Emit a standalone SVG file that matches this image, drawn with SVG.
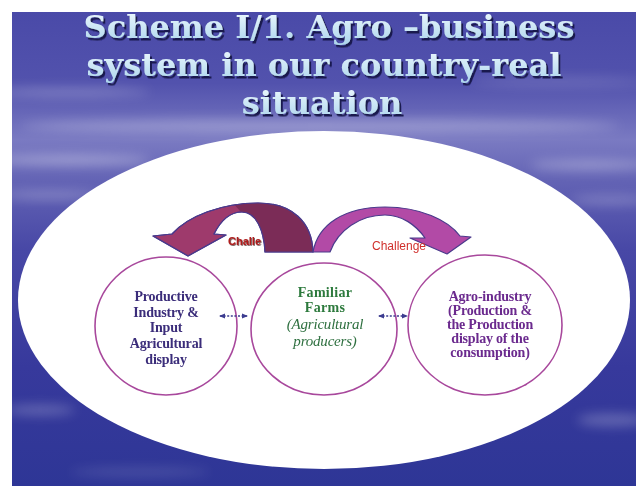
<svg xmlns="http://www.w3.org/2000/svg" width="636" height="486" viewBox="0 0 636 486">
  <defs>
    <linearGradient id="sky" x1="0" y1="0" x2="0" y2="1">
      <stop offset="0" stop-color="#4a4aa8"/>
      <stop offset="0.15" stop-color="#5252ad"/>
      <stop offset="0.27" stop-color="#7a7ac2"/>
      <stop offset="0.36" stop-color="#6262b4"/>
      <stop offset="0.5" stop-color="#4848a6"/>
      <stop offset="0.75" stop-color="#37399c"/>
      <stop offset="1" stop-color="#2e3696"/>
    </linearGradient>
    <linearGradient id="titleFill" x1="0" y1="0" x2="0" y2="1">
      <stop offset="0" stop-color="#f2fbff"/>
      <stop offset="1" stop-color="#a9d3ec"/>
    </linearGradient>
    <filter id="haze" x="-30%" y="-200%" width="160%" height="500%">
      <feGaussianBlur stdDeviation="6"/>
    </filter>
    <filter id="titleShadow" x="-5%" y="-20%" width="110%" height="150%">
      <feDropShadow dx="2" dy="2.5" stdDeviation="0.7" flood-color="#14144a" flood-opacity="0.95"/>
    </filter>
    <filter id="labelShadow" x="-10%" y="-30%" width="120%" height="160%">
      <feDropShadow dx="0.8" dy="0.8" stdDeviation="0.3" flood-color="#3a1010" flood-opacity="0.8"/>
    </filter>
    <marker id="tip" viewBox="0 0 6 6" refX="5" refY="3" markerWidth="5" markerHeight="5" orient="auto-start-reverse">
      <path d="M0,0.5 L6,3 L0,5.5 Z" fill="#3c3c90"/>
    </marker>
    <clipPath id="rightLeg">
      <polygon points="226,195 330,195 330,262 250,262 250,220 240,211"/>
    </clipPath>
  </defs>
  <style>
    .title { font-family: "DejaVu Serif", "Liberation Serif", serif; font-weight: bold; font-size: 32px; fill: url(#titleFill); text-anchor: middle; filter: url(#titleShadow); }
    .ring { fill: none; stroke: #a8489c; stroke-width: 1.6; }
    .lbl { font-family: "Liberation Serif", "Times New Roman", serif; font-size: 14px; font-weight: bold; text-anchor: middle; letter-spacing: -0.2px; }
    .lbl-input { fill: #3b2d7a; }
    .lbl-farm { fill: #2d7a3d; letter-spacing: 0.3px; }
    .lbl-farm-it { fill: #2f7040; font-size: 15px; font-weight: normal; font-style: italic; }
    .lbl-agro { fill: #6b2a8e; }
    .bend { stroke: #4a3a8c; stroke-width: 1.2; stroke-linejoin: round; }
    .link { stroke: #3c3c90; stroke-width: 1.3; stroke-dasharray: 2 1.6; fill: none; }
    .challenge { font-family: "Liberation Sans", Arial, sans-serif; font-size: 12px; fill: #d0302c; }
    .challenge-bold { font-family: "Liberation Sans", Arial, sans-serif; font-size: 11px; font-weight: bold; fill: #b01c1c; filter: url(#labelShadow); }
  </style>

  <!-- page margin and slide background -->
  <rect width="636" height="486" fill="#ffffff"/>
  <rect x="12" y="12" width="624" height="474" fill="url(#sky)"/>

  <!-- soft cloud streaks -->
  <g filter="url(#haze)" fill="#ffffff">
    <ellipse cx="70" cy="92" rx="80" ry="4" opacity="0.25"/>
    <ellipse cx="560" cy="82" rx="90" ry="4" opacity="0.18"/>
    <ellipse cx="320" cy="126" rx="300" ry="7" opacity="0.28"/>
    <ellipse cx="70" cy="160" rx="80" ry="5" opacity="0.35"/>
    <ellipse cx="50" cy="195" rx="50" ry="4" opacity="0.28"/>
    <ellipse cx="590" cy="165" rx="60" ry="5" opacity="0.3"/>
    <ellipse cx="610" cy="200" rx="40" ry="4" opacity="0.25"/>
    <ellipse cx="40" cy="410" rx="35" ry="5" opacity="0.25"/>
    <ellipse cx="612" cy="420" rx="35" ry="6" opacity="0.25"/>
    <ellipse cx="140" cy="472" rx="70" ry="4" opacity="0.15"/>
  </g>

  <!-- title -->
  <text class="title" x="329" y="38">Scheme I/1. Agro –business</text>
  <text class="title" x="324" y="76">system in our country-real</text>
  <text class="title" x="322" y="114">situation</text>

  <!-- white stage -->
  <ellipse cx="324" cy="300" rx="306" ry="169" fill="#ffffff"/>

  <!-- curved challenge arrows -->
  <g id="arrow-back">
    <path class="bend" fill="#9e3a6c" d="M313,252 C312,222 292,203 258,203 C222,203 188,216 172,234 L153,236 L188,256 L226,235 L214,234 C221,220 231,212 242,212 C256,212 264,230 265,252 Z"/>
    <path fill="#7b2c57" clip-path="url(#rightLeg)" d="M313,252 C312,222 292,203 258,203 C222,203 188,216 172,234 L153,236 L188,256 L226,235 L214,234 C221,220 231,212 242,212 C256,212 264,230 265,252 Z"/>
    <path fill="none" class="bend" d="M313,252 C312,222 292,203 258,203 C222,203 188,216 172,234 L153,236 L188,256 L226,235 L214,234 C221,220 231,212 242,212 C256,212 264,230 265,252 Z"/>
    <text class="challenge-bold" x="228" y="245">Challe</text>
  </g>
  <g id="arrow-forward">
    <path class="bend" fill="#b24aa6" d="M313,252 C318,224 345,207 385,207 C420,207 448,220 460,236 L471,237 L447,254 L410,238 L425,238 C416,225 402,215 385,215 C360,215 338,230 330,252 Z"/>
    <text class="challenge" x="372" y="250">Challenge</text>
  </g>

  <!-- nodes -->
  <g id="node-input">
    <ellipse class="ring" cx="166" cy="326" rx="71" ry="69"/>
    <text class="lbl lbl-input" x="166" y="301">Productive</text>
    <text class="lbl lbl-input" x="166" y="317">Industry &amp;</text>
    <text class="lbl lbl-input" x="166" y="332">Input</text>
    <text class="lbl lbl-input" x="166" y="348">Agricultural</text>
    <text class="lbl lbl-input" x="166" y="364">display</text>
  </g>
  <g id="node-farms">
    <ellipse class="ring" cx="324" cy="329" rx="73" ry="66"/>
    <text class="lbl lbl-farm" x="325" y="297">Familiar</text>
    <text class="lbl lbl-farm" x="325" y="312">Farms</text>
    <text class="lbl lbl-farm-it" x="325" y="329">(Agricultural</text>
    <text class="lbl lbl-farm-it" x="325" y="346">producers)</text>
  </g>
  <g id="node-agro">
    <ellipse class="ring" cx="485" cy="325" rx="77" ry="70"/>
    <text class="lbl lbl-agro" x="490" y="301">Agro-industry</text>
    <text class="lbl lbl-agro" x="490" y="315">(Production &amp;</text>
    <text class="lbl lbl-agro" x="490" y="329">the Production</text>
    <text class="lbl lbl-agro" x="490" y="343">display of the</text>
    <text class="lbl lbl-agro" x="490" y="357">consumption)</text>
  </g>

  <!-- connectors -->
  <g id="links">
    <line class="link" x1="220" y1="316" x2="247" y2="316" marker-start="url(#tip)" marker-end="url(#tip)"/>
    <line class="link" x1="379" y1="316" x2="407" y2="316" marker-start="url(#tip)" marker-end="url(#tip)"/>
  </g>
</svg>
